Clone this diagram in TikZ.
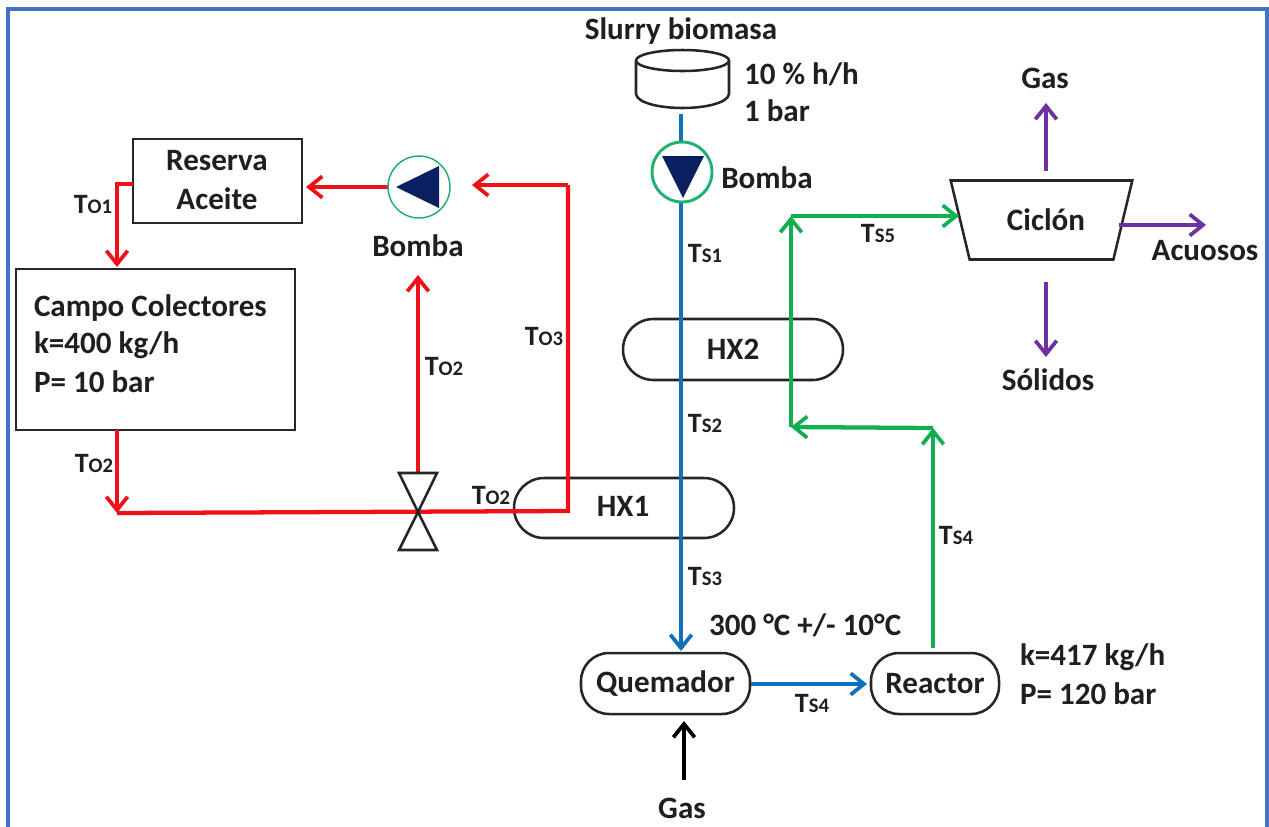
\documentclass[tikz,border=0pt]{standalone}
\usepackage{fontspec}
\setmainfont{Carlito}
\usetikzlibrary{arrows.meta,shapes.geometric,shapes.misc}
\definecolor{framec}{HTML}{4472C4}
\definecolor{redl}{HTML}{F01018}
\definecolor{bluel}{HTML}{0F70BE}
\definecolor{greenl}{HTML}{10B050}
\definecolor{purl}{HTML}{7030A0}
\definecolor{navyp}{HTML}{0A2060}
\definecolor{pumpg}{HTML}{20B070}
\newcommand\TT[1]{T{\fontsize{15.5}{15.5}\selectfont #1}}
\tikzset{
  x=0.75pt,y=-0.75pt,
  every node/.style={font=\fontsize{23.3}{26}\selectfont\bfseries,text=black!88,inner sep=0pt,outer sep=0pt},
  sq/.style={draw=black!85,line width=2.2pt,fill=white},
  rnd/.style={draw=black!85,line width=1.9pt,fill=white,rounded corners=21pt},
  hx/.style={draw=black!85,line width=1.9pt,rounded rectangle},
  flow/.style={line width=3.2pt,-{Straight Barb[length=10pt,width=16pt,line width=2.8pt]}},
  pipe/.style={line width=3.2pt},
  lbl/.style={font=\fontsize{21}{24}\selectfont\bfseries},
  pumpc/.style={circle,draw=pumpg,fill=white},
  blade/.style={fill=navyp,draw=none},
  valve/.style={draw=black!85,line width=1.9pt,fill=white},
  vessel/.style={draw=black!85,line width=1.9pt,fill=white},
}
\begin{document}
\begin{tikzpicture}
\useasboundingbox (0,0) rectangle (1269,826);
\clip (0,0) rectangle (1269,826);
\fill[white] (0,0) rectangle (1269,826);
\node[draw=framec,line width=3.4pt,minimum width={1259*.75pt},minimum height={840*.75pt},anchor=north west] (frame) at (8,9) {};

% equipment
\node[sq,minimum width={169*.75pt},minimum height={84*.75pt},align=center] (res) at (217.5,181) {};
\node (res1) at (217,161) {Reserva};
\node (res2) at (217,199) {Aceite};
\node[sq,minimum width={279*.75pt},minimum height={161*.75pt}] (camp) at (155.5,349.5) {};
\node[anchor=west] (camp1) at (34,308) {Campo Colectores};
\node[anchor=west] (camp2) at (34,345) {k=400 kg/h};
\node[anchor=west] (camp3) at (34,382) {P= 10 bar};
\node[hx,minimum width={220*.75pt},minimum height={61*.75pt}] (hx2) at (733,349.5) {};
\node (hx2t) at (733,349) {HX2};
\node[hx,minimum width={220*.75pt},minimum height={60*.75pt}] (hx1) at (624,508) {};
\node (hx1t) at (623,506) {HX1};
\node[rnd,minimum width={169*.75pt},minimum height={61*.75pt}] (quem) at (665.5,683.5) {Quemador};
\node[rnd,minimum width={128*.75pt},minimum height={61*.75pt}] (reac) at (935,683.5) {Reactor};
\node[draw=black!85,line width=1.9pt,fill=white,trapezium,trapezium stretches=true,shape border rotate=180,trapezium left angle=65,trapezium right angle=65,minimum width={182*.75pt},minimum height={79*.75pt}] (cic) at (1041.5,220) {\phantom{Ciclón}};
\node (cict) at (1046,220) {Ciclón};
% storage tank
\draw[vessel,line join=round] (636,61) -- (636,94) .. controls (637,103) and (660,108) .. (682.5,108) .. controls (705,108) and (728,103) .. (729,94) -- (729,61);
\draw[vessel] (682.5,60.5) ellipse [x radius=46.5,y radius=10.5];

% named bends and ends
\coordinate (s0) at (681,114);
\coordinate (s1) at (681,202);
\coordinate (s2) at (681,651);
\coordinate (q1) at (751,684);
\coordinate (q2) at (867,684);
\coordinate (g0) at (684,780);
\coordinate (g1) at (684,721);
\coordinate (a0) at (933,648);
\coordinate (a1) at (933,428);
\coordinate (a2) at (791,427);
\coordinate (a3) at (791,216);
\coordinate (a4) at (959,216);
\coordinate (p0) at (1046,171);
\coordinate (p1) at (1046,103);
\coordinate (p2) at (1046,282);
\coordinate (p3) at (1046,357);
\coordinate (p4) at (1119,225);
\coordinate (p5) at (1206,225);
\coordinate (r0) at (133,184);
\coordinate (r1) at (117,184);
\coordinate (r2) at (117,267);
\coordinate (r3) at (117,430);
\coordinate (r4) at (117,513);
\coordinate (r5) at (568,511);
\coordinate (r6) at (568,185);
\coordinate (r7) at (472,185);
\coordinate (r8) at (418,473);
\coordinate (r9) at (418,275);
\coordinate (r10) at (388,187);
\coordinate (r11) at (306,187);

% pipes
\draw[flow,draw=bluel] (s0) -- (s2);
\draw[flow,draw=bluel] (q1) -- (q2);
\draw[flow,draw=black] (g0) -- (g1);
\draw[flow,draw=greenl] (a0) -- (a1);
\draw[flow,draw=greenl] (a1) -- (a2);
\draw[flow,draw=greenl] (a2) -- (a3);
\draw[flow,draw=greenl] (a3) -- (a4);
\draw[flow,draw=purl] (p0) -- (p1);
\draw[flow,draw=purl] (p2) -- (p3);
\draw[flow,draw=purl] (p4) -- (p5);
\draw[flow,draw=redl] (r0) -- (r1) -- (r2);
\draw[flow,draw=redl] (r3) -- (r4);
\draw[pipe,draw=redl,line join=miter] (r4) -- (r5) -- (r6);
\draw[flow,draw=redl] (r6) -- (r7);
\draw[flow,draw=redl] (r8) -- (r9);
\draw[flow,draw=redl] (r10) -- (r11);

% valve
\coordinate (vc) at (418,512);
\draw[valve,fill=none] (399,473) -- (437,473) -- (vc) -- cycle;
\draw[valve,fill=none] (399,550) -- (437,550) -- (vc) -- cycle;

% pumps
\node[pumpc,line width=1.1pt,minimum size={62*.75pt}] (pl) at (419,187) {};
\fill[blade] (396,187) -- (439,166) -- (439,208) -- cycle;
\node[pumpc,line width=2.2pt,minimum size={60*.75pt}] (pt) at (682,172) {};
\fill[blade] (662,156) -- (704,156) -- (683,198) -- cycle;

% text
\node (slurry) at (681,31) {Slurry biomasa};
\node[anchor=west] (t10) at (744,74) {10 \% h/h};
\node[anchor=west] (t1b) at (744,111) {1 bar};
\node (bt) at (767,178) {Bomba};
\node (bl) at (418,246) {Bomba};
\node (ggas) at (1045,78) {Gas};
\node (acu) at (1205,251) {Acuosos};
\node (sol) at (1048,380) {Sólidos};
\node (gas) at (682,808) {Gas};
\node[anchor=west] (t300) at (709,625) {300 °C +/- 10°C};
\node[anchor=west] (k417) at (1020,657) {k=417 kg/h};
\node[anchor=west] (p120) at (1020,694) {P= 120 bar};
\node[lbl] (to1) at (93,204) {\TT{O1}};
\node[lbl] (to2a) at (94,463) {\TT{O2}};
\node[lbl] (to2b) at (444,366) {\TT{O2}};
\node[lbl] (to3) at (544,336) {\TT{O3}};
\node[lbl] (to2c) at (491,495) {\TT{O2}};
\node[lbl] (ts1) at (705,253) {\TT{S1}};
\node[lbl] (ts2) at (705,423) {\TT{S2}};
\node[lbl] (ts3) at (705,576) {\TT{S3}};
\node[lbl] (ts4a) at (812,703) {\TT{S4}};
\node[lbl] (ts4b) at (956,535) {\TT{S4}};
\node[lbl] (ts5) at (878,233) {\TT{S5}};
\end{tikzpicture}
\end{document}
